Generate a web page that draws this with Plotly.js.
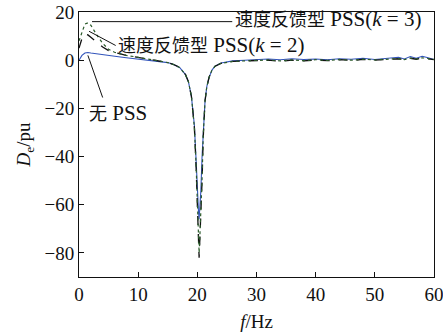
<!DOCTYPE html>
<html><head><meta charset="utf-8">
<script src="https://cdn.plot.ly/plotly-3.0.1.min.js"></script>
<style>html,body{margin:0;padding:0;background:#fff}</style>
</head><body><div id="c" style="width:443px;height:334px"></div>
<script>
const freq = [0,0.5,1,1.5,2,3,4,5,6,7,8,10,12,14,15,16,17,18,18.5,19,19.5,19.8,20,20.2,20.3,20.4,20.6,20.8,21,21.3,21.6,22,22.5,23,24,25,26,28,30,32,34,36,38,40,42,44,46,48,50,52,54,55,56,57,58,59,60];
const noPSS = [0,2,3,3.2,3,2.6,2.3,2,1.7,1.3,1.0,0.5,0,-0.5,-1,-1.8,-3,-6,-9,-15,-27,-42,-55,-63,-66,-62,-54,-40,-28,-17,-11,-7,-4,-2.5,-1.2,-0.6,-0.3,0,0.3,0.5,0.2,0.6,0.3,0.5,0.2,0.6,0.4,0.8,0.3,0.6,1.2,0.5,1.5,0.8,1.6,1.0,0.3];
const pssK2 = [5,9,11,10.5,9.5,7.5,5.5,4,3.2,2.6,2,1.2,0.3,-0.4,-1,-1.8,-3,-6,-9,-15,-28,-45,-58,-75,-82,-76,-66,-50,-32,-17,-11,-7,-4,-2.5,-1.3,-0.8,-0.5,-0.3,-0.2,0,-0.4,0,-0.3,0.1,-0.2,0.2,-0.1,0.3,0,0.2,0.6,0.3,0.8,0.4,0.9,0.6,0.2];
const pssK3 = [8,12,15,15.5,14.5,10.5,7,4.5,3.3,2.6,2,1.2,0.3,-0.4,-1,-1.8,-3,-6,-9,-15,-28,-44,-57,-73,-80,-75,-65,-49,-31,-17,-11,-7,-4,-2.5,-1.3,-0.8,-0.5,-0.3,-0.1,0.1,-0.3,0.1,-0.2,0.2,-0.1,0.3,0,0.4,0.1,0.3,0.7,0.2,0.9,0.5,1.0,0.7,0.3];
const labels = ['无 PSS','速度反馈型 PSS(<i>k</i> = 2)','速度反馈型 PSS(<i>k</i> = 3)'];
const xTicks = [0,10,20,30,40,50,60];
const yTicks = [20,0,-20,-40,-60,-80];

const FONT = '"Liberation Serif", "Times New Roman", "Noto Sans CJK SC", serif';
const traces = [
  {x:freq,y:noPSS,mode:'lines',name:labels[0],line:{color:'#3355bb',width:1.1}},
  {x:freq,y:pssK2,mode:'lines',name:labels[1],line:{color:'#111',width:1.3,dash:'dash'}},
  {x:freq,y:pssK3,mode:'lines',name:labels[2],line:{color:'#2a5a2a',width:1.2,dash:'dot'}}
];
const ann = (x,y,t)=>({xref:'x',yref:'y',x:x,y:y,text:t,showarrow:false,xanchor:'left',yanchor:'middle',font:{family:FONT,size:21,color:'#111'}});
const layout = {
  width:443,height:334,
  margin:{l:79,r:9,t:12,b:57},
  showlegend:false,
  paper_bgcolor:'#fff',plot_bgcolor:'#fff',
  font:{family:FONT,size:19,color:'#111'},
  xaxis:{range:[0,60],tickvals:xTicks,ticks:'inside',ticklen:5,tickcolor:'#111',ticklabeloverflow:'allow',
    showline:true,mirror:true,linecolor:'#111',linewidth:1,showgrid:false,zeroline:false,
    tickfont:{family:FONT,size:19,color:'#111'},
    title:{text:'<i>f</i>/Hz',font:{family:FONT,size:19,color:'#111'},standoff:10}},
  yaxis:{range:[-90,20],tickvals:yTicks,ticktext:yTicks.map(v=>v<0?'\u2212'+(-v):String(v)),
    ticks:'inside',ticklen:5,tickcolor:'#111',ticklabeloverflow:'allow',
    showline:true,mirror:true,linecolor:'#111',linewidth:1,showgrid:false,zeroline:false,
    tickfont:{family:FONT,size:19,color:'#111'},
    title:{text:'<i>D</i><sub>e</sub>/pu',font:{family:FONT,size:19,color:'#111'},standoff:8}},
  shapes:[
    {type:'line',xref:'x',yref:'y',x0:2.2,y0:16,x1:25.9,y1:16,line:{color:'#111',width:1}},
    {type:'line',xref:'x',yref:'y',x0:1.7,y0:12,x1:6.2,y1:6.1,line:{color:'#111',width:1}},
    {type:'line',xref:'x',yref:'y',x0:1.5,y0:2,x1:4.0,y1:-15.5,line:{color:'#111',width:1}}
  ],
  annotations:[
    ann(26.1,17,'<span style="font-size:18px">速度反馈型</span> PSS(<i>k</i> = 3)'),
    ann(6.3,6.1,'<span style="font-size:18px">速度反馈型</span> PSS(<i>k</i> = 2)'),
    ann(1.4,-21.8,'<span style="font-size:18px">无</span> PSS')
  ]
};
Plotly.newPlot('c',traces,layout,{staticPlot:true,displayModeBar:false});
</script></body></html>
